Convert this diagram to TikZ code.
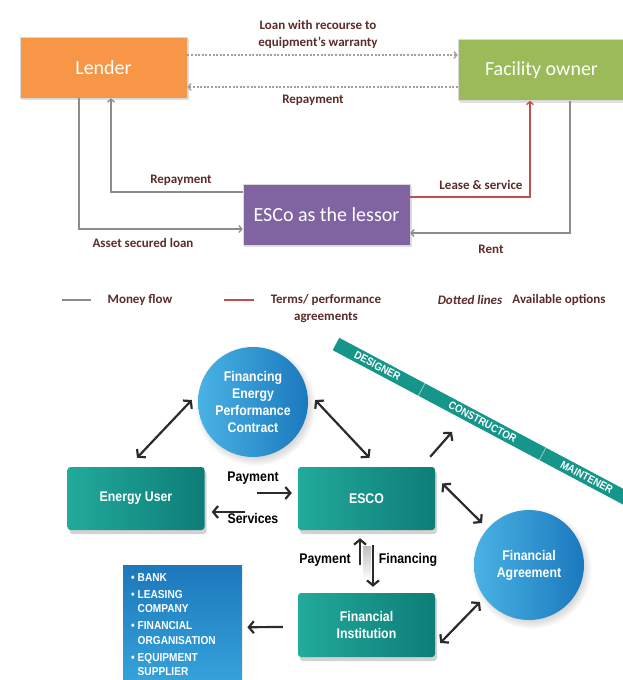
\documentclass[tikz,border=0pt]{standalone}
\usepackage{fontspec}
\setmainfont{Carlito}
\newfontfamily\cond[FakeStretch=0.88]{Liberation Sans}
\usetikzlibrary{arrows.meta,shadows,calc}
\definecolor{lenderc}{HTML}{F79646}
\definecolor{facc}{HTML}{9BBB59}
\definecolor{escoc}{HTML}{8064A2}
\definecolor{labc}{HTML}{5C2B2B}
\definecolor{linec}{HTML}{8C8C8C}
\definecolor{dotc}{HTML}{A0A0A0}
\definecolor{redc}{HTML}{C0504D}
\definecolor{tealL}{HTML}{22AA9B}
\definecolor{tealD}{HTML}{0D7D77}
\definecolor{blueL}{HTML}{4AB2E4}
\definecolor{blueD}{HTML}{1A79BD}
\definecolor{listT}{HTML}{1D78BC}
\definecolor{listB}{HTML}{38A7DE}
\definecolor{arrc}{HTML}{2B2B2B}
\definecolor{bandc}{HTML}{16968A}
\begin{document}
\begin{tikzpicture}[x=1pt,y=-1pt,
  topbox/.style={rectangle, minimum width=167pt, minimum height=61pt, text=white,
    font=\fontsize{20}{24}\selectfont, draw=white!85!black, line width=0.6pt,
    drop shadow={opacity=0.25, shadow xshift=1.5pt, shadow yshift=-2pt}},
  lab/.style={text=labc, font=\fontsize{13}{17}\selectfont\bfseries, align=center},
  money/.style={draw=linec, line width=1.3pt, -{Straight Barb[length=3pt,width=7pt]}},
  terms/.style={draw=redc, line width=1.3pt, -{Straight Barb[length=3pt,width=7pt]}},
  dotl/.style={draw=dotc, line width=1.3pt, dash pattern=on 2pt off 1.6pt, -{Straight Barb[length=3pt,width=7pt]}},
  tealbox/.style={rectangle, rounded corners=3pt, minimum width=137pt, minimum height=63pt,
    left color=tealL, right color=tealD, text=white, align=center,
    font=\cond\bfseries\fontsize{14}{17}\selectfont,
    drop shadow={opacity=0.35, shadow xshift=2pt, shadow yshift=-4pt}},
  bluecirc/.style={circle, minimum size=110pt, inner sep=0pt, left color=blueL, right color=blueD,
    text=white, align=center, font=\cond\bfseries\fontsize{14}{17}\selectfont,
    circular drop shadow={opacity=0.3, shadow xshift=2pt, shadow yshift=-3pt}},
  arr/.style={draw=arrc, line width=2.2pt, >={Straight Barb[length=5pt,width=12pt]}},
  blab/.style={text=black, font=\cond\bfseries\fontsize{14}{17}\selectfont},
  bandtxt/.style={text=white, font=\cond\bfseries\fontsize{11}{12}\selectfont, rotate=-28, inner sep=0pt},
]
\useasboundingbox (0,0) rectangle (623,680);
\clip (0,0) rectangle (623,680);
\fill[white] (0,0) rectangle (623,680);

% ---------------- top diagram ----------------
\node[topbox, fill=lenderc] (lender) at (103.5,67.5) {Lender};
\node[topbox, fill=facc] (fac) at (541.5,70) {Facility owner};
\node[topbox, fill=escoc] (esco) at (326.5,214.5) {ESCo as the lessor};

\draw[dotl] (lender.east |- 0,55) -- (fac.west |- 0,55);
\draw[dotl] (fac.west |- 0,87) -- (lender.east |- 0,87);

\draw[money] (lender.south -| 79,0) |- (esco.west |- 0,229);
\draw[money] (esco.west |- 0,192) -| (lender.south -| 111,0);
\draw[terms] (esco.east |- 0,197) -| (fac.south -| 530,0);
\draw[money] (fac.south -| 570,0) |- (esco.east |- 0,233);

\node[lab] (l1) at (318,34) {Loan with recourse to\\equipment's warranty};
\node[lab] (l2) at (313,100) {Repayment};
\node[lab] (l3) at (181,180) {Repayment};
\node[lab] (l4) at (481,185) {Lease \& service};
\node[lab] (l5) at (143,243) {Asset secured loan};
\node[lab] (l6) at (491,249) {Rent};

% legend
\draw[linec, line width=1.3pt] (62,300) -- (91,300);
\node[lab] (lg1) at (140,300) {Money flow};
\draw[redc, line width=1.3pt] (224,300) -- (254,300);
\node[lab] (lg2) at (326,308.5) {Terms/ performance\\agreements};
\node[lab, font=\fontsize{13}{17}\selectfont\bfseries\itshape] (lg3) at (470,300) {Dotted lines};
\node[lab] (lg4) at (559,300) {Available options};

% ---------------- bottom diagram ----------------
\begin{scope}[shift={(336,344)}, rotate=-28]
  \fill[bandc] (0,-7) rectangle (345,7);
  \draw[white!60!bandc, line width=0.7pt] (97,-7) -- (97,7);
  \draw[white!60!bandc, line width=0.7pt] (234,-7) -- (234,7);
  \node[bandtxt] (d1) at (47,0) {DESIGNER};
  \node[bandtxt] (d2) at (166,0) {CONSTRUCTOR};
  \node[bandtxt] (d3) at (284,0) {MAINTENER};
\end{scope}
\coordinate (bandpt) at (452,432);

\node[bluecirc] (fepc) at (253,402) {Financing\\Energy\\Performance\\Contract};
\node[tealbox] (eu) at (136,498.5) {Energy User};
\node[tealbox] (besco) at (366.5,498.5) {ESCO};
\node[tealbox, minimum height=64pt] (fi) at (366.5,625) {Financial\\Institution};
\node[bluecirc] (fa) at (529,565) {Financial\\Agreement};

\node[rectangle, anchor=north west, minimum width=119pt, minimum height=130pt,
  top color=listT, bottom color=listB, inner sep=0pt] (list) at (123,565) {};
\node[anchor=north west, inner sep=0pt, text=white,
  font=\cond\bfseries\fontsize{11.5}{14.5}\selectfont] (listtext) at (131,571)
  {\begin{tabular}{@{}l@{\hspace{3pt}}l@{}}
   •&BANK\\[2.5pt]
   •&LEASING\\
    &COMPANY\\[2.5pt]
   •&FINANCIAL\\
    &ORGANISATION\\[2.5pt]
   •&EQUIPMENT\\
    &SUPPLIER
   \end{tabular}};

\shade[top color=black!25, bottom color=white] (363,546) rectangle (371,580);

\draw[arr,<->] ($(eu.north)+(1,-9)$) -- ($(fepc.west)+(-6,-2)$);
\draw[arr,<->] ($(fepc.east)+(7,-2)$) -- ($(besco.north)+(3,-9)$);
\draw[arr,->] ($(eu.east)+(52,-5.5)$) -- ($(besco.west)+(-6,-5.5)$);
\draw[arr,->] ($(besco.west)+(-53,13.5)$) -- ($(eu.east)+(7,13.5)$);
\draw[arr,->] ($(besco.north east)+(-5,-10)$) -- (bandpt);
\draw[arr,<->] ($(besco.east)+(7,-15)$) -- ($(fa.center)+(-47,-42)$);
\draw[arr,<->] ($(fi.east)+(5,18)$) -- ($(fa.center)+(-49,37)$);
\draw[arr,->] ($(fi.north)+(-6.5,-28)$) -- ($(besco.south)+(-6.5,8)$);
\draw[arr,->] ($(besco.south)+(6.5,15)$) -- ($(fi.north)+(6.5,-6)$);
\draw[arr,->] ($(fi.west)+(-15,2)$) -- ($(list.east)+(5,-3)$);

\node[blab] (p1) at (253,478) {Payment};
\node[blab] (s1) at (253,518) {Services};
\node[blab] (p2) at (325,560) {Payment};
\node[blab] (f2) at (408,560) {Financing};
\end{tikzpicture}
\end{document}
